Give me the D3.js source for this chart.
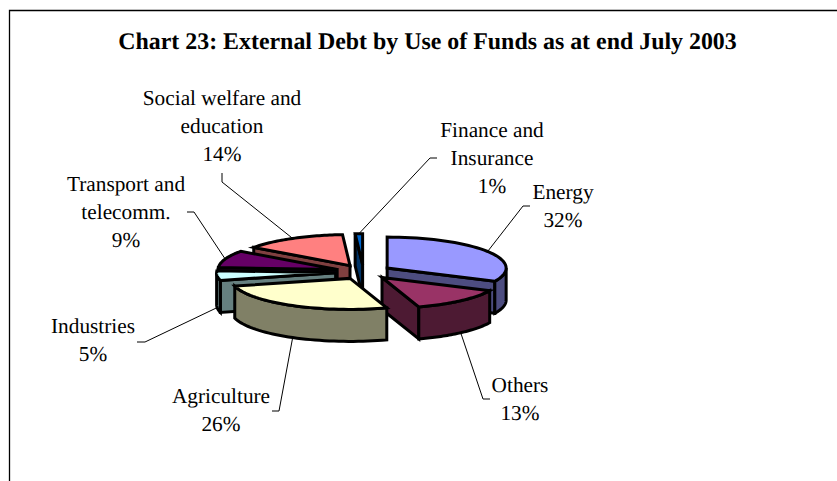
<!DOCTYPE html>
<html>
<head>
<meta charset="utf-8">
<style>
  html, body { margin: 0; padding: 0; background: #fff; }
  svg { display: block; }
  text { font-family: "Liberation Serif", "Times New Roman", serif; fill: #000; text-rendering: geometricPrecision; }
</style>
<script src="https://cdnjs.cloudflare.com/ajax/libs/d3/7.8.5/d3.min.js"></script>
</head>
<body>
<svg id="chart" width="837" height="481"></svg>
<script>
// External debt shares, clockwise from twelve o'clock
const categories = ["Energy", "Others", "Agriculture", "Industries", "Transport and telecomm.", "Social welfare and education", "Finance and Insurance"];
const shares = [32, 13, 26, 5, 9, 14, 1];
const topColours = ["#9999FF", "#993366", "#FFFFCC", "#CCFFFF", "#660066", "#FF8080", "#0066CC"];
const sideColours = ["#4D4D80", "#4D1A33", "#808066", "#668080", "#330033", "#804040", "#003366"];
const labelLines = [
  ["Energy"], ["Others"], ["Agriculture"], ["Industries"],
  ["Transport and", "telecomm."], ["Social welfare and", "education"], ["Finance and", "Insurance"]
];

// Label anchor (centre x, first baseline) and leader elbows for each slice
const labelAnchors = [[563, 199], [520, 392], [221, 403], [93, 333], [126, 191], [222, 105], [492, 137]];
const leaderElbows = [
  [[523, 206], [530, 206]],
  [[483, 399], [490, 399]],
  [[279, 411], [272, 411]],
  [[145, 342], [137, 342]],
  [[194, 212], [187, 212]],
  [[222, 182], [222, 173]],
  [[430, 158], [437, 158]]
];

// Projection of the tilted pie
const pieCentre = [363.5, 272], radiusX = 119, radiusY = 31, depth = 32, explode = 28;
const lineHeight = 28.2;

const svg = d3.select("#chart");
const fillTop = d3.scaleOrdinal(categories, topColours);
const fillSide = d3.scaleOrdinal(categories, sideColours);

// Chart frame runs off the right and bottom of the page
svg.append("path")
  .attr("d", "M9.5,481V10.5H837")
  .attr("fill", "none").attr("stroke", "#000").attr("stroke-width", 1.3);

svg.append("text")
  .attr("x", 427.5).attr("y", 49)
  .attr("text-anchor", "middle")
  .attr("font-weight", "bold").attr("font-size", 23.9)
  .text("Chart 23: External Debt by Use of Funds as at end July 2003");

const slices = d3.pie().sort(null).value((d, i) => shares[i]).startAngle(0).endAngle(2 * Math.PI)(categories);

slices.forEach(s => {
  const mid = (s.startAngle + s.endAngle) / 2;
  s.cx = pieCentre[0] + explode * Math.sin(mid);
  s.cy = pieCentre[1] - explode * (radiusY / radiusX) * Math.cos(mid);
  s.mid = mid;
});

const rim = (s, a) => [s.cx + radiusX * Math.sin(a), s.cy - radiusY * Math.cos(a)];
const arcPoints = (s, a0, a1) => d3.range(0, 41).map(i => rim(s, a0 + (a1 - a0) * i / 40));
const closed = d3.line().curve(d3.curveLinearClosed);

// Faces of one slice, painted from the hidden side outward
function facesOf(s) {
  const faces = [];
  const wall = a => {
    const p = rim(s, a);
    return [[s.cx, s.cy], p, [p[0], p[1] + depth], [s.cx, s.cy + depth]];
  };
  if (Math.sin(s.startAngle) < 0) faces.push({ pts: wall(s.startAngle), side: true });
  if (Math.sin(s.endAngle) > 0) faces.push({ pts: wall(s.endAngle), side: true });
  const a0 = Math.max(s.startAngle, Math.PI / 2), a1 = Math.min(s.endAngle, 3 * Math.PI / 2);
  if (a1 > a0) {
    const upper = arcPoints(s, a0, a1);
    const lower = upper.map(p => [p[0], p[1] + depth]).reverse();
    faces.push({ pts: upper.concat(lower), side: true });
  }
  faces.push({ pts: [[s.cx, s.cy]].concat(arcPoints(s, s.startAngle, s.endAngle)), side: false });
  return faces;
}

// Back-to-front order of the exploded slices
const paintOrder = ["Finance and Insurance", "Social welfare and education", "Energy", "Transport and telecomm.", "Industries", "Others", "Agriculture"];

// Leaders sit beneath the pie and start on the visible rim
const leaderLine = d3.line();
slices.forEach((s, i) => {
  const p = rim(s, s.mid);
  const start = Math.cos(s.mid) < 0 ? [p[0], p[1] + depth] : p;
  svg.append("path")
    .attr("d", leaderLine([start].concat(leaderElbows[i])))
    .attr("fill", "none").attr("stroke", "#000").attr("stroke-width", 1);
});

paintOrder.forEach(name => {
  const s = slices.find(d => d.data === name);
  svg.append("g").attr("class", "slice").selectAll("path")
    .data(facesOf(s)).join("path")
    .attr("d", f => closed(f.pts))
    .attr("fill", f => f.side ? fillSide(name) : fillTop(name))
    .attr("stroke", "#000").attr("stroke-width", 3).attr("stroke-linejoin", "miter");
});

// Slice labels: name lines followed by the percentage
slices.forEach((s, i) => {
  const lines = labelLines[i].concat(shares[i] + "%");
  svg.append("text")
    .attr("text-anchor", "middle").attr("font-size", 21.3)
    .selectAll("tspan").data(lines).join("tspan")
    .attr("x", labelAnchors[i][0])
    .attr("y", (d, k) => labelAnchors[i][1] + k * lineHeight)
    .text(d => d);
});
</script>
</body>
</html>
